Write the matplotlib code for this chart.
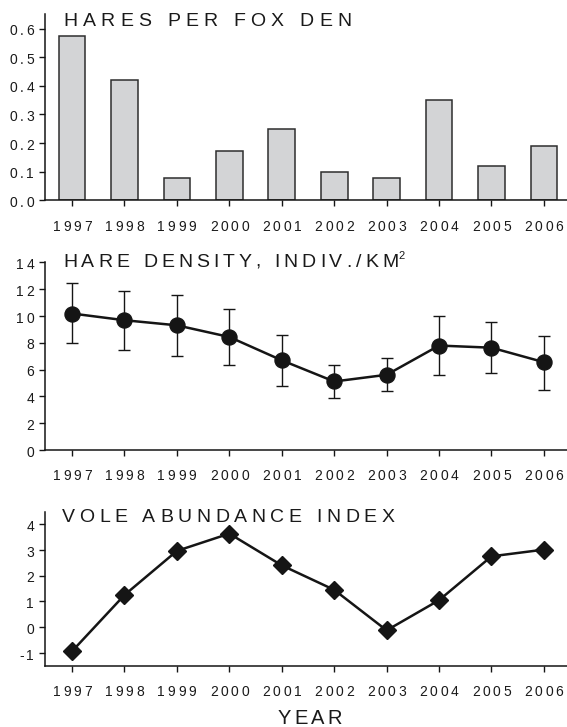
import numpy as np
import matplotlib
matplotlib.use('Agg')
import matplotlib.pyplot as plt
from matplotlib.font_manager import FontProperties, findfont, get_font

# ---------------- data ----------------
years = [1997, 1998, 1999, 2000, 2001, 2002, 2003, 2004, 2005, 2006]
hares_per_den = [0.573, 0.421, 0.078, 0.171, 0.250, 0.099, 0.078, 0.350, 0.121, 0.191]
hare_density = [10.18, 9.68, 9.30, 8.43, 6.69, 5.11, 5.61, 7.79, 7.63, 6.55]
hare_upper = [12.42, 11.87, 11.57, 10.50, 8.58, 6.31, 6.86, 10.00, 9.55, 8.53]
hare_lower = [7.98, 7.43, 6.98, 6.31, 4.76, 3.86, 4.39, 5.58, 5.71, 4.46]
vole_index = [-0.93, 1.25, 2.96, 3.63, 2.40, 1.45, -0.12, 1.05, 2.75, 3.01]

yt_top = [0.0, 0.1, 0.2, 0.3, 0.4, 0.5, 0.6]
yt_mid = [0, 2, 4, 6, 8, 10, 12, 14]
yt_bot = [-1, 0, 1, 2, 3, 4]

# ---------------- layout ----------------
W, H, DPI = 567, 727, 100
FONT = 'Liberation Sans'
TXT = '#1a1a1a'
LINE = '#151515'

fig = plt.figure(figsize=(W / DPI, H / DPI), dpi=DPI)

def px_axes(left, top, right, bottom):
    # pixel box (from top-left) -> axes
    return fig.add_axes([left / W, 1 - bottom / H, (right - left) / W, (bottom - top) / H])

ft = get_font(findfont(FontProperties(family=FONT)))

def tracked(x, y, s, size, track, ha='left'):
    # letter spaced text, x/y in pixels from top-left, y = baseline
    ft.set_size(size, DPI)
    adv = [ft.load_char(ord(c)).linearHoriAdvance / 65536 for c in s]
    total = sum(adv) + track * (len(s) - 1)
    if ha == 'center':
        x -= total / 2
    elif ha == 'right':
        x -= total
    for c, a in zip(s, adv):
        if c != ' ':
            fig.text(x / W, 1 - y / H, c, fontsize=size, family=FONT,
                     ha='left', va='baseline', color=TXT)
        x += a + track
    return x

def style(ax, ylim, yticks, ylabels):
    ax.set_xlim(1996.49, 2006.44)
    ax.set_ylim(*ylim)
    for s in ['top', 'right']:
        ax.spines[s].set_visible(False)
    for s in ['left', 'bottom']:
        ax.spines[s].set_linewidth(1.1)
        ax.spines[s].set_color(LINE)
    ax.set_xticks(years)
    ax.set_yticks(yticks)
    ax.tick_params(direction='out', length=4.6, width=1.0, color=LINE,
                   labelleft=False, labelbottom=False)
    fig.canvas.draw()
    # tick labels drawn by hand (letter spaced)
    for yr in years:
        px, py = ax.transData.transform((yr, ylim[0]))
        tracked(px, H - py + 30.5, str(yr), 10, 2.7, ha='center')
    for v, lab in zip(yticks, ylabels):
        px, py = ax.transData.transform((ax.get_xlim()[0], v))
        tracked(34, H - py + 6.7, lab, 10, 2.4, ha='right')

# ---------------- top: hares per fox den ----------------
ax1 = px_axes(45.3, 14.2, 567, 200.3)
ax1.bar(years, hares_per_den, width=0.51, color='#d3d4d6', edgecolor='#2e2e2e',
        linewidth=1.1, zorder=2)
style(ax1, (0, 0.65), yt_top, ['%.1f' % v for v in yt_top])
tracked(63.3, 26, 'HARES PER FOX DEN', 14, 5.2)

# ---------------- middle: hare density ----------------
ax2 = px_axes(45.3, 262.3, 567, 450)
err = [np.subtract(hare_density, hare_lower), np.subtract(hare_upper, hare_density)]
ax2.errorbar(years, hare_density, yerr=err, fmt='none', ecolor=LINE,
             elinewidth=1.0, capsize=4.4, capthick=1.0, zorder=2)
ax2.plot(years, hare_density, color=LINE, lw=1.8, marker='o', markersize=10.8,
         markerfacecolor=LINE, markeredgecolor=LINE, zorder=3)
style(ax2, (0, 14), yt_mid, [str(v) for v in yt_mid])
xe = tracked(63.3, 266.7, 'HARE DENSITY, INDIV./KM', 14, 4.0)
fig.text((xe - 3.5) / W, 1 - 259.0 / H, '2', fontsize=8, family=FONT,
         ha='left', va='baseline', color=TXT)

# ---------------- bottom: vole abundance ----------------
ax3 = px_axes(45.3, 511.7, 567, 665.7)
ax3.plot(years, vole_index, color=LINE, lw=1.8, marker='D', markersize=9.2,
         markerfacecolor=LINE, markeredgecolor=LINE, zorder=3)
style(ax3, (-1.49, 4.48), yt_bot, [str(v) for v in yt_bot])
tracked(62, 521.7, 'VOLE ABUNDANCE INDEX', 14, 4.6)
tracked(310, 723.5, 'YEAR', 14.5, 3.2, ha='center')

fig.savefig('out.png', dpi=DPI)
